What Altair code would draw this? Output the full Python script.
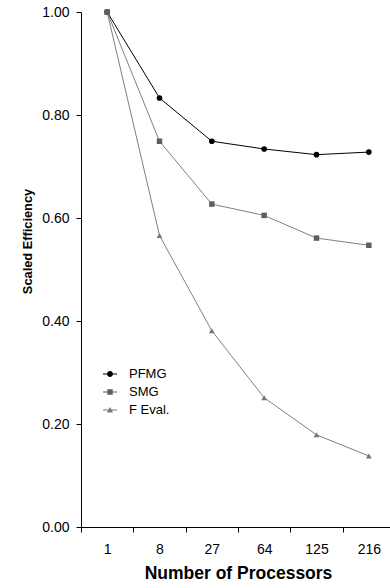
import altair as alt
import pandas as pd

processors = ["1", "8", "27", "64", "125", "216"]
series_names = ["PFMG", "SMG", "F Eval."]
pfmg = [1.00, 0.833, 0.749, 0.734, 0.723, 0.728]
smg = [1.00, 0.749, 0.627, 0.605, 0.561, 0.547]
feval = [1.00, 0.566, 0.381, 0.251, 0.179, 0.138]
y_ticks = [0.0, 0.2, 0.4, 0.6, 0.8, 1.0]

line_colors = ["#000000", "#808080", "#808080"]
marker_colors = ["#000000", "#5e5e5e", "#777777"]
legend_shapes = [
    "M-1,-0.07H1V0.07H-1ZM0.42,0A0.42,0.42,0,1,1,-0.42,0A0.42,0.42,0,1,1,0.42,0Z",
    "M-1,-0.07H1V0.07H-1ZM-0.38,-0.38H0.38V0.38H-0.38Z",
    "M-1,-0.07H1V0.07H-1ZM0,-0.44L0.44,0.34H-0.44Z",
]

rows = []
for name, vals in zip(series_names, [pfmg, smg, feval]):
    for p, v in zip(processors, vals):
        rows.append({"Processors": p, "Efficiency": v, "Series": name})
df = pd.DataFrame(rows)

FONT = "Liberation Sans"

x_enc = alt.X(
    "Processors:N",
    sort=processors,
    scale=alt.Scale(type="band", range=[0, 314], paddingInner=0, paddingOuter=0),
    axis=alt.Axis(
        title="Number of Processors",
        labelAngle=0,
        tickBand="extent",
        tickSize=5,
        labelPadding=10,
        labelFontSize=14,
        labelFont=FONT,
        labelColor="#000000",
        titleFont=FONT,
        titleFontSize=17.5,
        titleFontWeight="bold",
        titleColor="#000000",
        titleBaseline="alphabetic",
        titleY=51,
        domainColor="#000000",
        tickColor="#000000",
        grid=False,
    ),
)
y_enc = alt.Y(
    "Efficiency:Q",
    scale=alt.Scale(domain=[0, 1], nice=False, zero=True),
    axis=alt.Axis(
        title="Scaled Efficiency",
        values=y_ticks,
        format=".2f",
        tickSize=5,
        labelPadding=7,
        labelFontSize=14,
        labelFont=FONT,
        labelColor="#000000",
        titleFont=FONT,
        titleFontSize=12.8,
        titleFontWeight="bold",
        titleColor="#000000",
        titleAngle=-90,
        titleBaseline="alphabetic",
        titleX=-50,
        titleY=229,
        domainColor="#000000",
        tickColor="#000000",
        grid=False,
    ),
)

stroke_scale = alt.Scale(domain=series_names, range=line_colors)
fill_scale = alt.Scale(domain=series_names, range=marker_colors)
legend = alt.Legend(
    title=None,
    orient="none",
    legendX=22,
    legendY=355,
    padding=0,
    symbolSize=196,
    symbolStrokeWidth=0,
    symbolOpacity=1,
    labelFont=FONT,
    labelFontSize=13,
    labelColor="#000000",
    labelOffset=12,
    rowPadding=4,
)

base = alt.Chart(df)

lines = base.mark_line(strokeWidth=1).encode(
    x=x_enc,
    y=y_enc,
    stroke=alt.Stroke("Series:N", scale=stroke_scale, legend=legend),
    detail="Series:N",
)

def pts(name, shape, size):
    return base.transform_filter(alt.datum.Series == name).mark_point(
        shape=shape, filled=True, size=size, opacity=1, strokeWidth=0
    ).encode(
        x=x_enc,
        y=y_enc,
        fill=alt.Fill("Series:N", scale=fill_scale, legend=legend),
    )

legend_layer = base.mark_point(filled=True, opacity=0, size=196).encode(
    x=x_enc,
    y=y_enc,
    fill=alt.Fill("Series:N", scale=fill_scale, legend=legend),
    stroke=alt.Stroke("Series:N", scale=stroke_scale, legend=legend),
    shape=alt.Shape("Series:N", scale=alt.Scale(domain=series_names, range=legend_shapes), legend=legend),
)

chart = alt.layer(
    lines,
    pts("PFMG", "circle", 32),
    pts("F Eval.", "triangle-up", 34),
    pts("SMG", "square", 30),
    legend_layer,
).properties(
    width=309,
    height=515,
    background="#ffffff",
    autosize=alt.AutoSizeParams(type="none"),
    padding={"left": 81, "top": 12, "right": 0, "bottom": 61},
).configure_view(stroke="transparent")

chart.save("out.html", embed_options={"renderer": "svg", "actions": False})
